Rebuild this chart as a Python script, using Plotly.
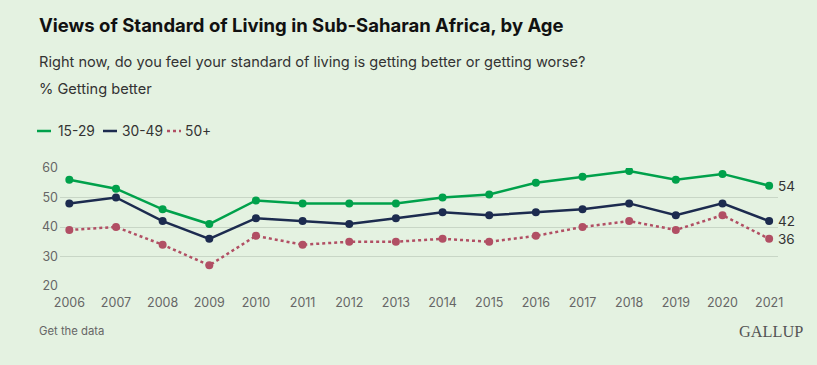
import plotly.graph_objects as go

years = list(range(2006, 2022))
age_15_29 = [56, 53, 46, 41, 49, 48, 48, 48, 50, 51, 55, 57, 59, 56, 58, 54]
age_30_49 = [48, 50, 42, 36, 43, 42, 41, 43, 45, 44, 45, 46, 48, 44, 48, 42]
age_50_plus = [39, 40, 34, 27, 37, 34, 35, 35, 36, 35, 37, 40, 42, 39, 44, 36]
series_names = ["15-29", "30-49", "50+"]
y_ticks = [20, 30, 40, 50, 60]

BG = "#E4F2E1"
GREEN = "#00A14B"
NAVY = "#1C2B4F"
RED = "#B14F64"
FONT = "Inter, Roboto, sans-serif"

L, R, T, B = 60, 39, 168, 79
PW, PH = 817 - L - R, 365 - T - B


def px(xp):
    return (xp - L) / PW


def py(yp):
    return 1 - (yp - T) / PH


fig = go.Figure()
series = [
    (series_names[0], age_15_29, GREEN, "solid"),
    (series_names[1], age_30_49, NAVY, "solid"),
    (series_names[2], age_50_plus, RED, "dot"),
]
for name, vals, col, dash in series:
    fig.add_trace(go.Scatter(
        x=years, y=vals, name=name, mode="lines+markers",
        line=dict(color=col, width=2.5, dash=dash),
        marker=dict(color=col, size=8),
        showlegend=False, hoverinfo="x+y+name",
    ))
    fig.add_annotation(x=years[-1], y=vals[-1], text=str(vals[-1]), xref="x", yref="y",
                       xanchor="left", yanchor="middle", xshift=7, showarrow=False,
                       font=dict(family=FONT, size=13.5, color="#333333"))

# Title and subtitle texts
fig.add_annotation(text="<b>Views of Standard of Living in Sub-Saharan Africa, by Age</b>",
                   xref="paper", yref="paper", x=px(37), y=py(25), xanchor="left", yanchor="middle",
                   showarrow=False, font=dict(family=FONT, size=18.5, color="#111111"))
fig.add_annotation(text="Right now, do you feel your standard of living is getting better or getting worse?",
                   xref="paper", yref="paper", x=px(37), y=py(62), xanchor="left", yanchor="middle",
                   showarrow=False, font=dict(family=FONT, size=14.6, color="#333333"))
fig.add_annotation(text="% Getting better",
                   xref="paper", yref="paper", x=px(37), y=py(89), xanchor="left", yanchor="middle",
                   showarrow=False, font=dict(family=FONT, size=14.6, color="#333333"))

# Custom legend
leg_line_x = [37, 103, 167]
leg_text_x = [56, 120, 183]
yl = py(131)
for (name, vals, col, dash), lx, tx in zip(series, leg_line_x, leg_text_x):
    fig.add_shape(type="line", xref="paper", yref="paper", x0=px(lx), x1=px(lx + 14), y0=yl, y1=yl,
                  line=dict(color=col, width=2.5, dash=dash))
    fig.add_annotation(text=name, xref="paper", yref="paper", x=px(tx), y=yl,
                       xanchor="left", yanchor="middle", showarrow=False,
                       font=dict(family=FONT, size=13.8, color="#333333"))

# Footer
fig.add_annotation(text="Get the data", xref="paper", yref="paper", x=px(37), y=py(331),
                   xanchor="left", yanchor="middle", showarrow=False,
                   font=dict(family=FONT, size=11.3, color="#666666"))
fig.add_annotation(text="GALLUP", xref="paper", yref="paper", x=px(805), y=py(331),
                   xanchor="right", yanchor="middle", showarrow=False,
                   font=dict(family="Liberation Serif, serif", size=16.3, color="#555555"))

fig.update_layout(
    width=817, height=365,
    margin=dict(l=L, r=R, t=T, b=B),
    paper_bgcolor=BG, plot_bgcolor=BG,
    font=dict(family=FONT, color="#666666"),
    xaxis=dict(range=[2005.8, 2021.19], tickvals=years, ticktext=[str(y) for y in years],
               showgrid=False, zeroline=False, showline=False, ticks="",
               ticklabelstandoff=7,
               tickfont=dict(size=12.5, color="#666666")),
    yaxis=dict(range=[20, 60], tickvals=y_ticks, showgrid=True, gridcolor="#C8D6C6",
               gridwidth=1, zeroline=False, showline=False, ticks="",
               ticklabelstandoff=1,
               tickfont=dict(size=12.5, color="#666666")),
)

fig.write_html("out.html", config={"displayModeBar": False},
               post_script="document.body.style.margin='0';")
